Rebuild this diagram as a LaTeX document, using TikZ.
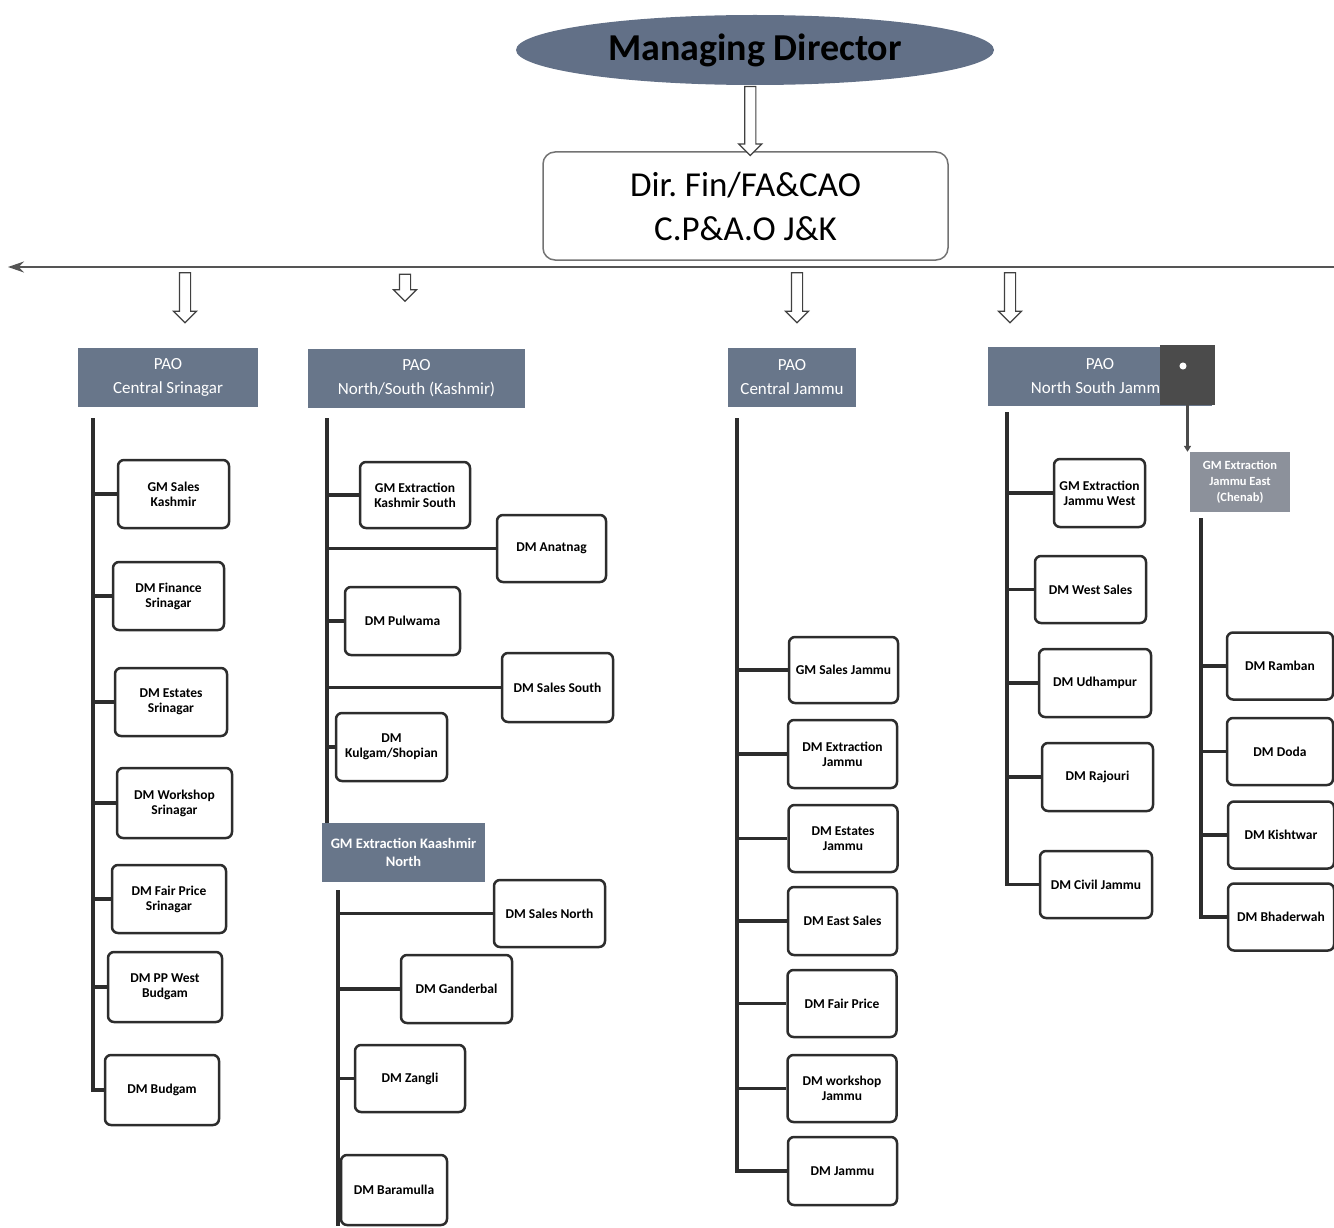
\documentclass[tikz,border=0pt]{standalone}
\usepackage{fontspec}
\setmainfont{Carlito}
\usetikzlibrary{shapes.geometric,shapes.arrows,arrows.meta,calc}

\definecolor{mdfill}{RGB}{98,112,135}
\definecolor{paofill}{RGB}{104,118,138}
\definecolor{unitline}{RGB}{45,45,45}
\definecolor{barline}{RGB}{85,85,85}
\definecolor{chenab}{RGB}{140,145,155}
\definecolor{tabgray}{RGB}{75,75,75}

\newcommand\unitfont{\fontsize{13.5}{15}\selectfont\bfseries}

\tikzset{
  unit/.style={draw=unitline, line width=2.5pt, rounded corners=6pt, fill=white,
    minimum width=110, minimum height=68, align=center, inner sep=2pt, font=\unitfont},
  pao/.style={fill=paofill, text=white, minimum height=59, align=center, inner sep=2pt,
    font=\fontsize{17}{24}\selectfont},
  hollow/.style={single arrow, draw=black!75, fill=white, line width=1.2pt,
    shape border rotate=270, inner sep=5pt, minimum width=22,
    single arrow head extend=6pt},
  link/.style={draw=unitline, line width=3.5pt}
}

\begin{document}
\begin{tikzpicture}[x=1pt,y=-1pt]

        \useasboundingbox (0,0) rectangle (1334,1228);

        % top of the chart
        \node[ellipse, fill=mdfill, minimum width=478, minimum height=70, inner sep=0pt,
          font=\fontsize{38}{40}\selectfont\bfseries] (md) at (755,50) {Managing Director};
        \node[draw=black!55, line width=1.5pt, rounded corners=12pt, minimum width=405,
          minimum height=108, align=center, font=\fontsize{35}{44}\selectfont] (dir) at (745.5,206)
          {Dir.\ Fin/FA\&CAO\\C.P\&A.O J\&K};
        \node[hollow, minimum height=69] (hd) at ($(md.south)!.5!(dir.north)$) {};

        \coordinate (barL) at (8,267);
        \coordinate (barR) at (1334,267);
        \draw[draw=barline, line width=2pt, -{Stealth[length=16pt,width=11pt]}] (barR) -- (barL);

        \node[hollow, minimum height=50] (h1) at (185,295) {};
        \node[hollow, minimum height=27] (h2) at (405,285) {};
        \node[hollow, minimum height=50] (h3) at (797,295) {};
        \node[hollow, minimum height=50] (h4) at (1010,295) {};

        \begin{scope}[every node/.style={pao}]
          \node[minimum width=180] (p1) at (168,377.5)  {PAO\\Central Srinagar};
          \node[minimum width=217] (p2) at (416.5,378)  {PAO\\North/South (Kashmir)};
          \node[minimum width=128] (p3) at (792,377.5)  {PAO\\Central Jammu};
          \node[minimum width=224] (p4) at (1100,376.5) {PAO\\North South Jammu};
        \end{scope}

        \node[fill=tabgray, minimum width=55, minimum height=60] (sq) at (1187.5,375) {};
        \node[circle, fill=white, inner sep=2.5pt] (dot) at (1183,366) {};

        % PAO Central Srinagar
        \coordinate (t1) at (93,418);
        \begin{scope}[every node/.style={unit}]
          \node[minimum width=111]                 (gsk) at (173.5,494) {GM Sales\\Kashmir};
          \node[minimum width=111]                 (dfs) at (168.5,596) {DM Finance\\Srinagar};
          \node[minimum width=112]                 (des) at (171,702)   {DM Estates\\Srinagar};
          \node[minimum width=115,minimum height=70] (dws) at (174.5,803) {DM Workshop\\Srinagar};
          \node[minimum width=114]                 (dfp) at (169,899)   {DM Fair Price\\Srinagar};
          \node[minimum width=114,minimum height=70] (dpw) at (165,987) {DM PP West\\Budgam};
          \node[minimum width=114,minimum height=70] (dbg) at (162,1090) {DM Budgam};
        \end{scope}
        \draw[link] (t1) |- (dbg.west);
        \draw[link] (t1 |- gsk.west) -- (gsk.west);
        \draw[link] (t1 |- dfs.west) -- (dfs.west);
        \draw[link] (t1 |- des.west) -- (des.west);
        \draw[link] (t1 |- dws.west) -- (dws.west);
        \draw[link] (t1 |- dfp.west) -- (dfp.west);
        \draw[link] (t1 |- dpw.west) -- (dpw.west);

        % PAO North/South (Kashmir)
        \coordinate (t2) at (327,418);
        \begin{scope}[every node/.style={unit}]
          \node[minimum height=66]                 (gks) at (415,495)    {GM Extraction\\Kashmir South};
          \node[minimum width=109,minimum height=67] (dan) at (551.5,548.5) {DM Anatnag};
          \node[minimum width=115]                 (dpu) at (402.5,621)  {DM Pulwama};
          \node[minimum width=111,minimum height=69] (dss) at (557.5,687.5) {DM Sales South};
          \node[minimum width=111]                 (dku) at (391.5,747)  {DM\\Kulgam/Shopian};
        \end{scope}
        \node[pao, minimum width=163, font=\fontsize{14.5}{18}\selectfont\bfseries] (gkn)
          at (403.5,852.5) {GM Extraction Kaashmir\\North};
        \draw[link] (t2) -- (t2 |- gkn.north);
        \draw[link] (t2 |- gks.west) -- (gks.west);
        \draw[link] (t2 |- dan.west) -- (dan.west);
        \draw[link] (t2 |- dpu.west) -- (dpu.west);
        \draw[link] (t2 |- dss.west) -- (dss.west);
        \draw[link] (t2 |- dku.west) -- (dku.west);

        \coordinate (t3) at (338,890);
        \begin{scope}[every node/.style={unit}]
          \node[minimum width=111,minimum height=67] (dsn) at (549.5,913.5) {DM Sales North};
          \node[minimum width=111]                 (dgd) at (456.5,989)  {DM Ganderbal};
          \node[minimum height=67]                 (dzg) at (410,1078.5) {DM Zangli};
          \node[minimum width=106,minimum height=70] (dbm) at (394,1190) {DM Baramulla};
        \end{scope}
        \draw[link] (t3) -- (t3 |- dbm.south);
        \draw[link] (t3 |- dsn.west) -- (dsn.west);
        \draw[link] (t3 |- dgd.west) -- (dgd.west);
        \draw[link] (t3 |- dzg.west) -- (dzg.west);

        % PAO Central Jammu
        \coordinate (t4) at (737,418);
        \begin{scope}[every node/.style={unit, minimum width=109}]
          \node[minimum height=66] (gsj)  at (843.5,670)   {GM Sales Jammu};
          \node                    (dej)  at (842.5,754)   {DM Extraction\\Jammu};
          \node[minimum height=67] (desj) at (843,838.5)   {DM Estates\\Jammu};
          \node                    (dea)  at (842.5,921)   {DM East Sales};
          \node[minimum height=67] (dfj)  at (842,1003.5)  {DM Fair Price};
          \node[minimum height=67] (dwj)  at (842,1088.5)  {DM workshop\\Jammu};
          \node                    (djm)  at (842.5,1171)  {DM Jammu};
        \end{scope}
        \draw[link] (t4) |- (djm.west);
        \draw[link] (t4 |- gsj.west) -- (gsj.west);
        \draw[link] (t4 |- dej.west) -- (dej.west);
        \draw[link] (t4 |- desj.west) -- (desj.west);
        \draw[link] (t4 |- dea.west) -- (dea.west);
        \draw[link] (t4 |- dfj.west) -- (dfj.west);
        \draw[link] (t4 |- dwj.west) -- (dwj.west);

        % PAO North South Jammu
        \coordinate (t5) at (1007,412);
        \begin{scope}[every node/.style={unit, minimum width=111}]
          \node[minimum width=91] (gjw) at (1099.5,493)  {GM Extraction\\Jammu West};
          \node[minimum height=67] (dwe) at (1090.5,589.5) {DM West Sales};
          \node[minimum width=112] (dud) at (1095,683)   {DM Udhampur};
          \node                    (drj) at (1097.5,777) {DM Rajouri};
          \node[minimum width=112,minimum height=67] (dcj) at (1096,884.5) {DM Civil Jammu};
        \end{scope}
        \draw[link] (t5) |- (dcj.west);
        \draw[link] (t5 |- gjw.west) -- (gjw.west);
        \draw[link] (t5 |- dwe.west) -- (dwe.west);
        \draw[link] (t5 |- dud.west) -- (dud.west);
        \draw[link] (t5 |- drj.west) -- (drj.west);

        \node[fill=chenab, text=white, minimum width=100, minimum height=60, align=center,
          inner sep=1pt, font=\fontsize{12.5}{16}\selectfont\bfseries] (gje) at (1240,482)
          {GM Extraction\\Jammu East\\(Chenab)};
        \draw[draw=tabgray, line width=3.5pt, -{Triangle[length=6pt,width=7pt]}]
          (sq.south) -- (sq.south |- gje.north);

        \coordinate (t6) at (1201,518);
        \begin{scope}[every node/.style={unit, minimum width=106, minimum height=67}]
          \node (drb) at (1280,666)   {DM Ramban};
          \node (ddd) at (1280,751.5) {DM Doda};
          \node (dks) at (1281,835)   {DM Kishtwar};
          \node (dbh) at (1281,917)   {DM Bhaderwah};
        \end{scope}
        \draw[link] (t6) |- (dbh.west);
        \draw[link] (t6 |- drb.west) -- (drb.west);
        \draw[link] (t6 |- ddd.west) -- (ddd.west);
        \draw[link] (t6 |- dks.west) -- (dks.west);

      \end{tikzpicture}
\end{document}
